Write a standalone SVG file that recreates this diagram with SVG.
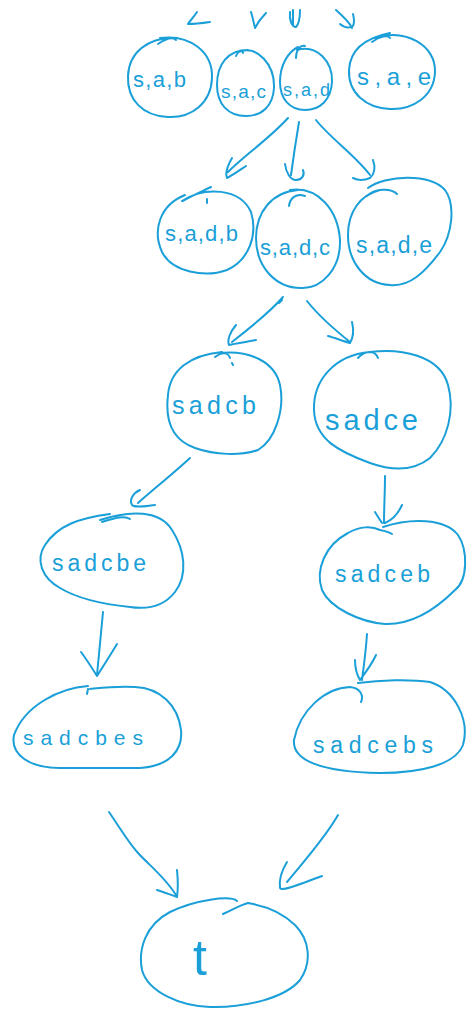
<svg xmlns="http://www.w3.org/2000/svg" width="467" height="1012" viewBox="0 0 467 1012">
<style>
.s{fill:none;stroke:#1a9fd8;stroke-width:2;stroke-linecap:round;stroke-linejoin:round}
.t{fill:#1a9fd8;font-family:"Liberation Sans","DejaVu Sans",sans-serif;font-weight:normal}
</style>
<rect width="467" height="1012" fill="#ffffff"/>
<g id="connectors" class="s">
<path d="M197,12 C193,18 189,22 188,24 C195,24 203,23 210,22"/>
<path d="M251,12 C253,18 254,24 255,28 C258,22 262,17 266,13"/>
<path d="M293,10 L293,25 M290,12 C289,20 292,27 296,27 C299,24 300,16 300,10"/>
<path d="M336,10 C345,18 350,23 352,28 M340,24 C345,28 350,28 353,26 C355,22 354,18 353,14"/>
<path d="M288,118 C270,138 245,155 228,172 M232,158 C228,165 225,173 227,178 C233,175 240,170 246,166"/>
<path d="M299,122 C296,140 293,160 291,175 M285,164 C286,172 290,180 296,180 C302,180 305,175 303,170"/>
<path d="M316,120 C330,138 355,155 370,175 M373,160 C376,168 374,175 370,178 C363,181 357,180 353,178"/>
<path d="M283,297 C270,312 250,328 232,342 M236,325 C230,332 227,340 229,345 C238,343 247,342 256,340 M282,300 L279,303"/>
<path d="M307,301 C318,315 335,330 350,342 M352,322 C354,330 353,338 350,343 C343,341 335,338 328,336"/>
<path d="M190,458 C175,472 155,488 138,503 M140,490 C133,493 129,500 132,505 C135,508 145,506 155,505"/>
<path d="M385,476 C385,492 384,508 384,523 M375,512 C378,517 380,520 382,523 M402,505 C398,514 392,520 385,523"/>
<path d="M103,612 C101,633 99,654 97,675 M81,652 C87,660 92,668 97,676 C104,665 111,654 117,644"/>
<path d="M367,634 C366,650 364,665 362,680 M355,660 C355,668 357,675 360,680 C366,672 372,664 376,655"/>
<path d="M109,812 C120,828 128,842 138,853 C150,866 168,880 177,897 M157,890 C164,892 171,895 177,897 M177,870 C178,880 178,890 177,897"/>
<path d="M338,815 C325,838 305,860 287,882 M287,862 C282,870 279,880 280,888 C282,892 300,884 322,876"/>
</g>
<g id="n-sab">
<path class="s" d="M160,38 C190,34 213,52 212,78 C211,103 192,118 168,117 C143,116 127,100 128,76 C129,52 148,38 173,38 M158,44 C164,40 172,36 176,40"/>
<text class="t" x="133" y="87" font-size="22" textLength="53" lengthAdjust="spacing">s,a,b</text>
</g>
<g id="n-sac">
<path class="s" d="M238,52 C258,44 275,66 274,88 C273,106 262,116 246,116 C228,116 217,104 217,85 C217,64 228,50 248,50 M236,56 C238,51 242,49 243,53"/>
<text class="t" x="221" y="98" font-size="19" textLength="45" lengthAdjust="spacing">s,a,c</text>
</g>
<g id="n-sad">
<path class="s" d="M297,50 C317,44 333,62 332,82 C331,100 320,110 305,110 C290,110 280,99 280,82 C280,65 288,52 298,47 M296,58 C296,50 300,45 305,46"/>
<text class="t" x="283" y="96" font-size="18" textLength="47" lengthAdjust="spacing">s,a,d</text>
</g>
<g id="n-sae">
<path class="s" d="M375,38 C405,28 436,45 435,72 C434,97 412,110 390,109 C366,108 348,93 349,70 C350,50 365,38 390,33 M372,42 C380,36 388,35 390,38"/>
<text class="t" x="357" y="85" font-size="24" textLength="74" lengthAdjust="spacing">s,a,e</text>
</g>
<g id="n-sadb">
<path class="s" d="M182,201 C205,186 240,188 251,212 C258,235 249,260 227,270 C205,278 172,272 162,252 C152,230 160,205 185,195 M183,201 C193,195 203,191 211,187 M207,199 L207,203"/>
<text class="t" x="165" y="241" font-size="22" textLength="73" lengthAdjust="spacing">s,a,d,b</text>
</g>
<g id="n-sadc">
<path class="s" d="M290,190 C318,186 338,210 340,240 C341,268 322,289 301,288 C275,288 256,266 256,238 C256,212 272,192 298,190 M289,206 C290,198 296,193 305,196"/>
<text class="t" x="260" y="255" font-size="22" textLength="70" lengthAdjust="spacing">s,a,d,c</text>
</g>
<g id="n-sade">
<path class="s" d="M368,188 C385,175 430,173 445,190 C456,205 452,235 440,252 C425,272 410,287 390,285 C365,284 348,262 348,235 C348,212 360,195 380,190 M367,196 C374,189 390,187 397,194"/>
<text class="t" x="356" y="253" font-size="23" textLength="76" lengthAdjust="spacing">s,a,d,e</text>
</g>
<g id="n-sadcb">
<path class="s" d="M220,353 C250,350 275,362 280,385 C285,410 275,440 258,450 C240,456 215,455 195,448 C172,440 165,420 168,395 C170,370 190,355 222,352 M215,357 C222,352 228,352 230,358 M232,363 L233,365"/>
<text class="t" x="172" y="414" font-size="25" textLength="84" lengthAdjust="spacing">sadcb</text>
</g>
<g id="n-sadce">
<path class="s" d="M370,352 C400,348 440,355 448,385 C455,410 448,440 430,458 C415,470 395,472 370,463 C340,452 315,440 314,410 C313,380 335,355 370,352 M358,358 C365,350 375,350 378,358"/>
<text class="t" x="325" y="430" font-size="29" textLength="93" lengthAdjust="spacing">sadce</text>
</g>
<g id="n-sadcbe">
<path class="s" d="M100,520 C130,510 160,510 172,530 C185,550 188,575 175,592 C165,605 150,610 130,607 C110,605 80,600 60,588 C42,578 35,560 45,545 C58,525 80,518 110,514 M102,522 C115,518 125,515 130,519"/>
<text class="t" x="52" y="571" font-size="23" textLength="94" lengthAdjust="spacing">sadcbe</text>
</g>
<g id="n-sadceb">
<path class="s" d="M383,527 C410,518 445,518 458,535 C468,550 468,580 455,590 C440,605 415,625 385,624 C360,622 330,608 322,590 C315,570 325,545 348,533 C360,526 372,526 380,530 C385,531 389,532 392,534"/>
<text class="t" x="335" y="582" font-size="23" textLength="95" lengthAdjust="spacing">sadceb</text>
</g>
<g id="n-sadcbes">
<path class="s" d="M88,686 C60,688 25,705 14,735 C10,755 30,768 60,768 L140,768 C170,766 183,750 181,730 C178,705 160,688 135,687 C115,686 100,688 90,689 M88,689 L87,694"/>
<text class="t" x="23" y="745" font-size="21" textLength="120" lengthAdjust="spacing">sadcbes</text>
</g>
<g id="n-sadcebs">
<path class="s" d="M361,702 C364,695 360,688 350,687 C325,688 300,710 294,740 C292,760 320,772 380,773 C420,773 455,765 463,745 C470,720 455,690 430,682 C410,679 380,680 358,683"/>
<text class="t" x="313" y="753" font-size="23" textLength="120" lengthAdjust="spacing">sadcebs</text>
</g>
<g id="n-t">
<path class="s" d="M237,901 C230,895 195,900 170,912 C145,925 138,950 142,970 C148,992 180,1006 210,1007 C245,1008 285,998 300,980 C312,963 310,940 295,925 C280,910 260,905 248,903 C240,905 232,910 223,914"/>
<text class="t" x="193" y="975" font-size="50">t</text>
</g>
</svg>
